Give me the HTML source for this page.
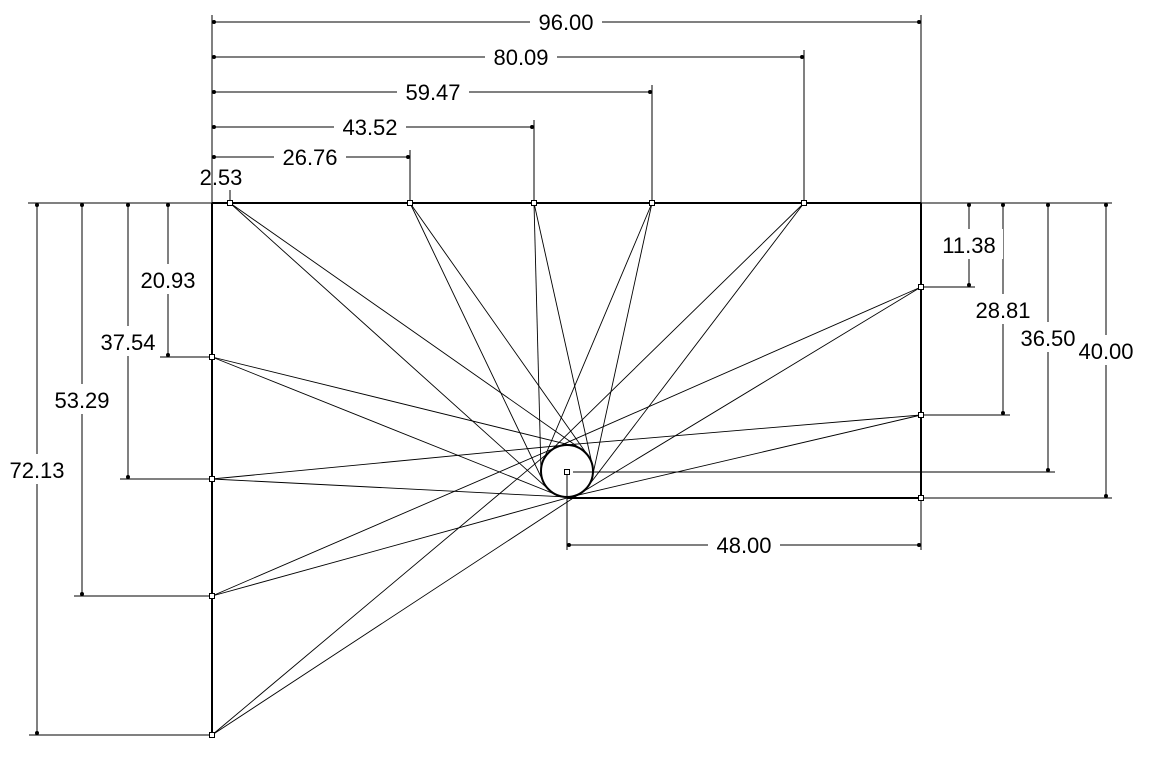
<!DOCTYPE html>
<html><head><meta charset="utf-8"><style>
html,body{margin:0;padding:0;background:#fff;}
svg{display:block}
text{font-family:"Liberation Sans",sans-serif;font-size:22px;fill:#000}
</style></head><body>
<svg id="s" width="1153" height="759" viewBox="0 0 1153 759" xmlns="http://www.w3.org/2000/svg">
<rect x="0" y="0" width="1153" height="759" fill="#fff"/>
<g id="g" stroke="#000" stroke-width="1" fill="none"></g>
<g id="b"></g>
<g id="t"></g>
</svg>
<script>
(function(){
var g=document.getElementById('g'),bb=document.getElementById('b'),tt=document.getElementById('t'),NS='http://www.w3.org/2000/svg';
function el(p,n,a){var e=document.createElementNS(NS,n);for(var k in a)e.setAttribute(k,a[k]);p.appendChild(e);return e;}
function L(x1,y1,x2,y2,w){el(g,'line',{x1:x1,y1:y1,x2:x2,y2:y2,'stroke-width':w||1});}
function T(x,y,s){var e=el(tt,'text',{x:x,y:y,'text-anchor':'middle'});e.textContent=s;return e;}
function bg(x,y,w,h){el(bb,'rect',{x:x,y:y,width:w,height:h,fill:'#fff'});}
function dot(x,y){el(g,'circle',{cx:x,cy:y,r:1.5,fill:'#000'});}
var cx=567,cy=471,r=26;
var pts=[[230,203],[410,203],[534,203],[652,203],[804,203],[212,357],[212,479],[212,596],[212,735],[921,287],[921,415]];
pts.forEach(function(p){var dx=p[0]-cx,dy=p[1]-cy,d=Math.sqrt(dx*dx+dy*dy),b=Math.atan2(dy,dx),a=Math.acos(r/d);
 [b+a,b-a].forEach(function(q){L(p[0],p[1],cx+r*Math.cos(q),cy+r*Math.sin(q),0.9);});});
L(212,203,921,203,2);L(921,203,921,498,2);L(212,203,212,735,2);L(567,498,921,498,2);
el(g,'circle',{cx:cx,cy:cy,r:r,'stroke-width':2});
var topD=[[410,157,310,'26.76'],[534,127,370,'43.52'],[652,92,433,'59.47'],[804,57,521,'80.09'],[921,22,566,'96.00']];
L(212,15,212,203);L(230,190,230,203);
topD.forEach(function(d){L(d[0],d[1]-7,d[0],203);L(212,d[1],d[0],d[1]);
 dot(d[0]-2,d[1]);dot(214,d[1]);
 bg(d[2]-36,d[1]-12,72,24);T(d[2],d[1]+8,d[3]);});
T(221,185,'2.53');
var leftD=[[168,357,280,'20.93'],[128,479,342,'37.54'],[82,596,400,'53.29'],[37,735,470,'72.13']];
leftD.forEach(function(d){L(d[0]-8,d[1],212,d[1]);L(d[0],203,d[0],d[1]);
 dot(d[0],205);dot(d[0],d[1]-2);
 bg(d[0]-34,d[2]-16,68,30);T(d[0],d[2]+8,d[3]);});
L(28,203,212,203);
L(921,203,1112,203);L(921,287,975,287);L(921,415,1010,415);L(573,472,1055,472);L(921,498,1112,498);
var rightD=[[969,287,245,'11.38'],[1003,415,310,'28.81'],[1048,472,338,'36.50'],[1106,498,351,'40.00']];
rightD.forEach(function(d){L(d[0],203,d[0],d[1]);
 dot(d[0],205);dot(d[0],d[1]-2);
 bg(d[0]-34,d[2]-16,68,30);T(d[0],d[2]+8,d[3]);});
L(567,471,567,550);L(921,498,921,550);L(567,545,921,545);
dot(569,545);dot(919,545);
bg(708,533,72,24);T(744,553,'48.00');
pts.concat([[921,498],[567,472]]).forEach(function(p){el(g,'rect',{x:p[0]-2.5,y:p[1]-2.5,width:5,height:5,fill:'#fff','stroke-width':1});});
})();
</script>
</body></html>
